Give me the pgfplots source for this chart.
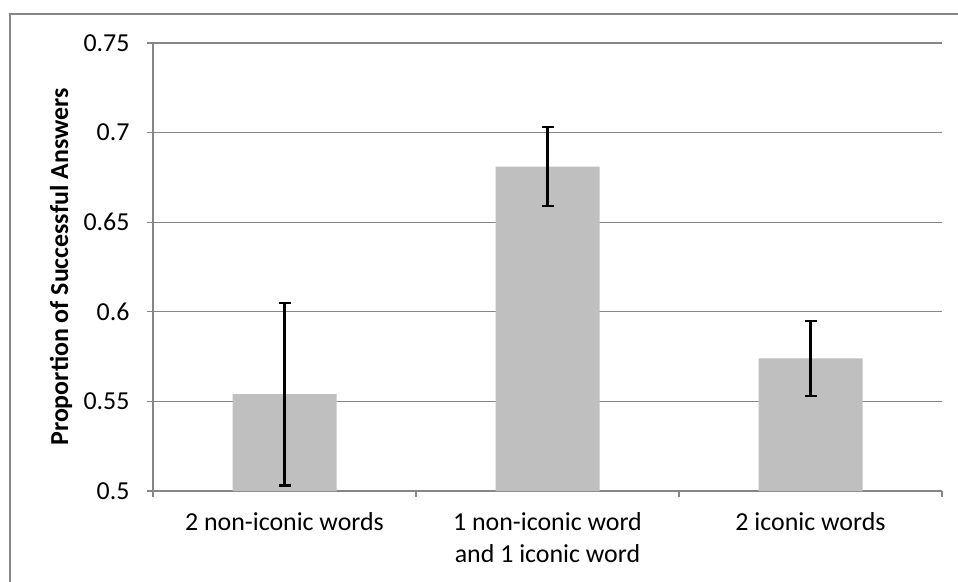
\documentclass[border=0pt]{standalone}
\usepackage{pgfplots}
\pgfplotsset{compat=1.18}
\usepackage{fontspec}
\setmainfont{Carlito}
\definecolor{axgray}{HTML}{868686}
\definecolor{bargray}{HTML}{BFBFBF}
\begin{document}
\begin{tikzpicture}[x=1bp,y=1bp]
\useasboundingbox (0,0) rectangle (958,-582);
\fill[white] (0,0) rectangle (958,-582);
\clip (0,0) rectangle (958,-582);
\draw[axgray, line width=1.5bp] (10,-14) rectangle (990,-620);
\begin{axis}[
  at={(153bp,-491bp)}, anchor=south west,
  scale only axis, width=789bp, height=448bp,
  xmin=-0.5, xmax=2.5, ymin=0.5, ymax=0.75,
  axis lines=left, axis line style={-, axgray, line width=1.5bp},
  xtick={0,1,2},
  xticklabels={2 non-iconic words, {1 non-iconic word\\and 1 iconic word}, 2 iconic words},
  minor xtick={-0.5,0.5,1.5,2.5},
  ytick={0.5,0.55,0.6,0.65,0.7,0.75},
  yticklabels={0.5,0.55,0.6,0.65,0.7,0.75},
  tick align=outside,
  major tick length=6bp, minor tick length=6bp,
  x tick style={draw=none},
  minor x tick style={draw=axgray, line width=1.3bp},
  y tick style={axgray, line width=1.3bp},
  ymajorgrids, grid style={axgray, line width=1.3bp},
  /pgf/number format/assume math mode=true,
  tick label style={font=\fontsize{26}{31.7}\selectfont},
  xticklabel style={align=center, yshift=-12bp},
  yticklabel style={xshift=-14bp},
  ylabel={\bfseries Proportion of Successful Answers},
  ylabel style={font=\fontsize{26}{31.7}\selectfont, at={(axis description cs:-0.1166,0.5)}, anchor=center},
  clip=false,
]
\addplot[ybar, bar width=104bp, fill=bargray, draw=none,
  error bars/.cd, y dir=both, y explicit,
  error bar style={black, line width=2.4bp},
  error mark options={black, line width=2.4bp, mark size=6bp, rotate=90}]
  coordinates {
    (0,0.554) +- (0,0.051)
    (1,0.681) +- (0,0.022)
    (2,0.574) +- (0,0.021)
  };
\end{axis}
\end{tikzpicture}
\end{document}
